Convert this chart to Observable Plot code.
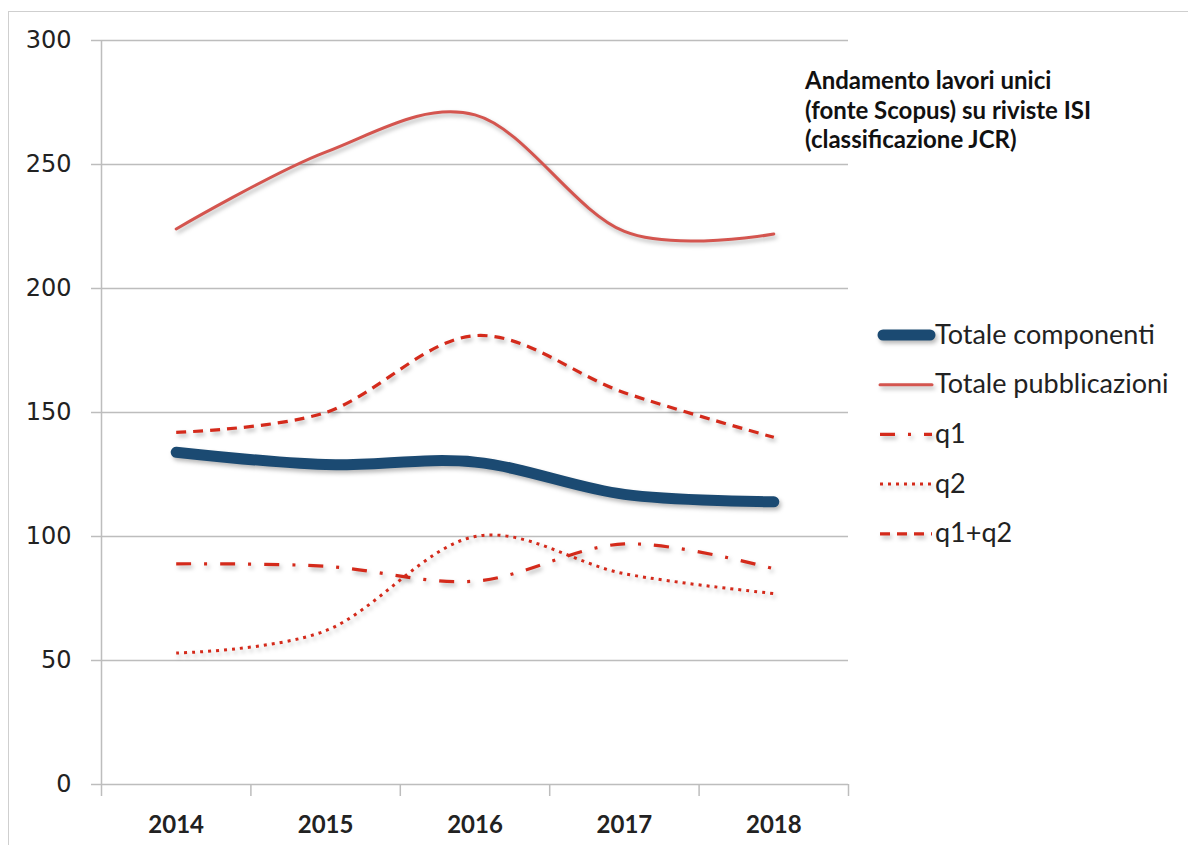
<!DOCTYPE html>
<html>
<head>
<meta charset="utf-8">
<script src="https://cdn.jsdelivr.net/npm/d3@7"></script>
<script src="https://cdn.jsdelivr.net/npm/@observablehq/plot@0.6"></script>
<style>
  html, body { margin: 0; padding: 0; background: #fff; overflow: hidden; }
  #wrap { position: relative; width: 1188px; height: 845px; overflow: hidden; }
  #frame { position: absolute; left: 8px; top: 11px; width: 1200px; height: 860px; border: 1.5px solid #cfcfcf; box-sizing: border-box; }
  #chart { position: absolute; left: 0; top: 0; }
  #overlay { position: absolute; left: 0; top: 0; pointer-events: none; }
  #chart g[aria-label="line"] path, #overlay .sw { filter: drop-shadow(2px 3px 2px rgba(0,0,0,0.28)); }
</style>
</head>
<body>
<div id="wrap">
  <div id="frame"></div>
  <div id="chart"></div>
  <svg id="overlay" width="1188" height="845"></svg>
</div>
<script>
// ---- data ----
const years = [2014, 2015, 2016, 2017, 2018];
const totaleComponenti = [134, 129, 130, 117, 114];
const totalePubblicazioni = [224, 255, 270, 223, 222];
const q1 = [89, 88, 82, 97, 87];
const q2 = [53, 62, 100, 85, 77];
const q1q2 = [142, 150, 181, 158, 140];
const yTicks = [0, 50, 100, 150, 200, 250, 300];
const seriesNames = ["Totale componenti", "Totale pubblicazioni", "q1", "q2", "q1+q2"];
const titleLines = ["Andamento lavori unici", "(fonte Scopus) su riviste ISI", "(classificazione JCR)"];

// ---- styles ----
const seriesValues = [totaleComponenti, totalePubblicazioni, q1, q2, q1q2];
const seriesStyle = [
  {stroke: "#1b4a72", strokeWidth: 11, dash: null, cap: "round"},
  {stroke: "#d4554f", strokeWidth: 3, dash: null, cap: "round"},
  {stroke: "#d42a1b", strokeWidth: 3.2, dash: "15 13 3 13", cap: "butt"},
  {stroke: "#d42a1b", strokeWidth: 3, dash: "3 5", cap: "butt"},
  {stroke: "#d42a1b", strokeWidth: 3.2, dash: "10 7", cap: "butt"}
];
const drawOrder = [1, 2, 3, 4, 0];

const rows = [];
seriesNames.forEach((name, i) => {
  years.forEach((yr, j) => rows.push({series: name, year: yr, value: seriesValues[i][j]}));
});

const gridColor = "#bdbdbd";
const boundaries = years.map(y => y - 0.5).concat([years[years.length - 1] + 0.5]);

const lineMarks = drawOrder.map(i => Plot.line(rows.filter(r => r.series === seriesNames[i]), {
  x: "year", y: "value", curve: "cardinal",
  stroke: seriesStyle[i].stroke,
  strokeWidth: seriesStyle[i].strokeWidth,
  strokeDasharray: seriesStyle[i].dash,
  strokeLinecap: seriesStyle[i].cap,
  strokeLinejoin: "round"
}));

const chart = Plot.plot({
  width: 1188,
  height: 845,
  marginLeft: 101,
  marginRight: 340,
  marginTop: 40,
  marginBottom: 61,
  style: {background: "transparent", overflow: "visible"},
  x: {type: "linear", domain: [boundaries[0], boundaries[boundaries.length - 1]]},
  y: {domain: [0, 300]},
  marks: [
    Plot.gridY(yTicks, {stroke: gridColor, strokeOpacity: 1, strokeWidth: 1.5}),
    Plot.axisY(yTicks, {tickSize: 10, tickPadding: 20, stroke: gridColor, strokeOpacity: 1, strokeWidth: 1.5,
      fill: "#222", fontSize: 24, fontFamily: "DejaVu Sans", label: null, tickFormat: d => String(d)}),
    Plot.ruleX([boundaries[0]], {stroke: gridColor, strokeWidth: 1.5}),
    Plot.axisX(boundaries, {tickSize: 12, stroke: gridColor, strokeOpacity: 1, strokeWidth: 1.5, tickFormat: () => "", label: null}),
    Plot.axisX(years, {tickSize: 0, tickPadding: 31, tickFormat: d => String(d), fontSize: 24, fontWeight: 700,
      fontFamily: "Lato", fill: "#222", label: null}),
    ...lineMarks
  ]
});
document.getElementById("chart").appendChild(chart);

// ---- title & legend overlay ----
const ov = d3.select("#overlay");
const title = ov.append("g");
titleLines.forEach((t, i) => {
  title.append("text").attr("x", 805).attr("y", 89 + i * 29.5)
    .attr("font-family", "Lato").attr("font-weight", 700).attr("font-size", 24).attr("fill", "#111").text(t);
});
const leg = ov.append("g");
seriesNames.forEach((name, i) => {
  const cy = 335 + i * 49.7;
  const s = seriesStyle[i];
  const swX0 = s.strokeWidth > 6 ? 883 : 880;
  const swX1 = s.strokeWidth > 6 ? 930 : 932;
  leg.append("line").attr("class", "sw").attr("x1", swX0).attr("x2", swX1).attr("y1", cy).attr("y2", cy)
    .attr("stroke", s.stroke).attr("stroke-width", s.strokeWidth)
    .attr("stroke-dasharray", s.dash).attr("stroke-linecap", s.cap);
  leg.append("text").attr("x", 935).attr("y", cy + 8.5)
    .attr("font-family", "Lato").attr("font-size", 27).attr("fill", "#222").text(name);
});
</script>
</body>
</html>
